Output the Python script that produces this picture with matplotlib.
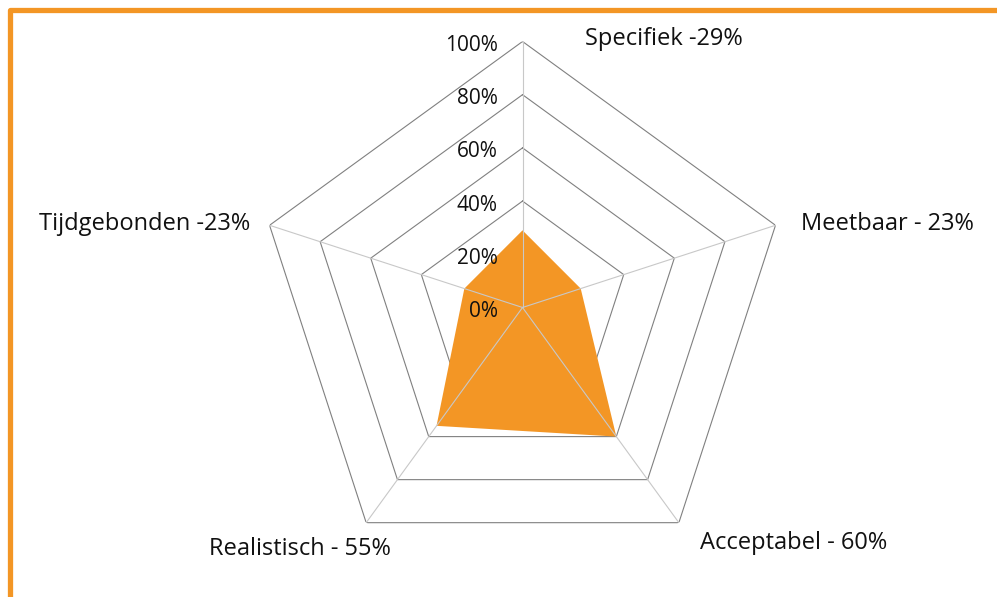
import numpy as np
import matplotlib
matplotlib.use("Agg")
import matplotlib.pyplot as plt
from matplotlib.lines import Line2D

plt.rcParams["font.family"] = ["Open Sans", "DejaVu Sans"]

# SMART scores
categories = ["Specifiek -29%", "Meetbaar - 23%", "Acceptabel - 60%",
              "Realistisch - 55%", "Tijdgebonden -23%"]
values = [0.29, 0.23, 0.60, 0.55, 0.23]
ticks = [0.0, 0.2, 0.4, 0.6, 0.8, 1.0]
tick_labels = ["0%", "20%", "40%", "60%", "80%", "100%"]

orange = "#F39625"
n = len(categories)
angles = np.linspace(0, 2 * np.pi, n, endpoint=False)

fig = plt.figure(figsize=(9.97, 5.97), dpi=100)
ax = fig.add_axes([0.2573, 0.0394, 0.5336, 0.8911], projection="polar")
ax.set_theta_offset(np.pi / 2)
ax.set_theta_direction(-1)
ax.set_ylim(0, 1)
ax.grid(False)
ax.spines["polar"].set_visible(False)
ax.set_xticks([])
ax.set_yticks([])
ax.patch.set_alpha(0)

# pentagon grid + spokes
closed = np.append(angles, angles[0])
for t in ticks[1:]:
    ax.plot(closed, [t] * (n + 1), color="#808080", lw=0.8, zorder=1)
for a in angles:
    ax.plot([a, a], [0, 1], color="#c8c8c8", lw=0.8, zorder=3)

# data
ax.fill(closed, values + values[:1], color=orange, lw=0, zorder=2)

# radial tick labels
for t, lab in zip(ticks, tick_labels):
    ax.annotate(lab, xy=(0, t), xytext=(-25, -4), textcoords="offset pixels",
                ha="right", va="center", fontsize=15, color="#111111")

# category labels
offsets = [(62, 2, "left"), (25, 1, "left"), (21, -20, "left"),
           (25, -26, "right"), (-19, 1, "right")]
for a, lab, (dx, dy, ha) in zip(angles, categories, offsets):
    ax.annotate(lab, xy=(a, 1.0), xytext=(dx, dy), textcoords="offset pixels",
                ha=ha, va="center", fontsize=17, color="#111111")

# orange frame (top and left)
fig.add_artist(Line2D([10 / 997, 10 / 997, 1.0], [0.0, 1 - 10 / 597, 1 - 10 / 597],
                      color=orange, lw=3.8, solid_joinstyle="round",
                      transform=fig.transFigure))

fig.savefig("out.png", dpi=100)
